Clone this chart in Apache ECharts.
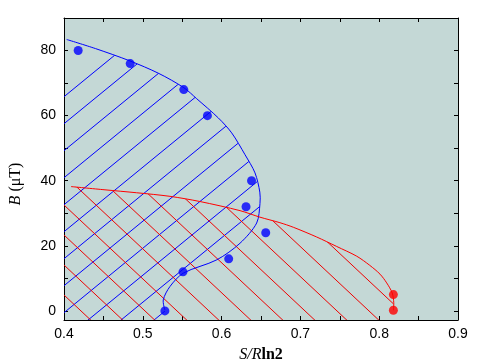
<!DOCTYPE html>
<html><head><meta charset="utf-8">
<script src="https://cdn.jsdelivr.net/npm/echarts@6/dist/echarts.min.js"></script>
<style>html,body{margin:0;padding:0;background:#fff}#c{width:500px;height:360px}</style>
</head><body><div id="c"></div>
<script>
// ---- data ----
const blueCurve = [[0.4034,83.4],[0.44,80.6],[0.4838,76.8],[0.52,73.0],[0.552,68.6],[0.5684,65.2],[0.5958,59.3],[0.6128,54.7],[0.6297,48.0],[0.6424,42.4],[0.6485,36.5],[0.6487,33.0],[0.6445,27.0],[0.6234,20.8],[0.594,15.7],[0.5514,11.6],[0.5345,7.5],[0.526,3.4],[0.528,0.3]];
const redCurve = [[0.4089,38.2],[0.452,37.2],[0.4922,36.3],[0.5345,35.2],[0.5726,33.6],[0.6234,30.8],[0.6487,28.8],[0.674,27.1],[0.691,25.7],[0.7207,22.7],[0.746,19.8],[0.7715,16.8],[0.788,14.0],[0.801,11.3],[0.8095,8.6],[0.8165,5.5],[0.8185,2.5],[0.818,0.2]];
const bluePoints = [[0.418,80],[0.484,76],[0.552,68],[0.582,60],[0.638,40],[0.631,32],[0.656,24],[0.609,16],[0.551,12],[0.528,0]];
const redPoints = [[0.818,5],[0.818,0.2]];
const xLabelValues = [0.4,0.5,0.6,0.7,0.8,0.9];
const yTickValues = [0,10,20,30,40,50,60,70,80,90];
const yLabelValues = [0,20,40,60,80];
const X_MIN = 0.4, X_MAX = 0.9, Y_MIN = -2.8, Y_MAX = 90;
// where the blue hatching begins on the left edge (hatch boundary), and where it meets the curve
const blueHatchStart = [[0.4, 66], [0.44, 80.6]];

// hatch pattern tile (pixel-space style)
function hatch(color, W, H, up, px, py) {
  const cv = document.createElement('canvas');
  cv.width = W; cv.height = H;
  const ctx = cv.getContext('2d');
  ctx.strokeStyle = color; ctx.lineWidth = 1;
  const s = H / W;
  let c = up ? py + s * px : py - s * px;
  c = ((c % H) + H) % H;
  ctx.beginPath();
  for (let k = -3; k <= 3; k++) {
    const x0 = -2, x1 = W + 2;
    const y0 = up ? c - s * x0 + k * H : c + s * x0 + k * H;
    const y1 = up ? c - s * x1 + k * H : c + s * x1 + k * H;
    ctx.moveTo(x0, y0); ctx.lineTo(x1, y1);
  }
  ctx.stroke();
  return { image: cv, repeat: 'repeat' };
}
const bluePattern = hatch('#0000ff', 33, 27, true, 64, 96.7);
const redPattern = hatch('#ee0000', 32, 30, false, 64, 205);

function blueRegion() {
  const last = blueCurve[blueCurve.length - 1];
  const pts = blueCurve.slice(1);
  return [blueHatchStart[1]].concat(pts.filter(p => p[0] >= blueHatchStart[1][0] || p[1] < 80),
    [[last[0], Y_MIN], [X_MIN, Y_MIN], blueHatchStart[0]]);
}
function redRegion() {
  const last = redCurve[redCurve.length - 1];
  return redCurve.concat([[last[0], Y_MIN], [X_MIN, Y_MIN], [X_MIN, redCurve[0][1]]]);
}
function hatchSeries(poly, pattern, z) {
  return {
    type: 'custom', coordinateSystem: 'cartesian2d', silent: true, z: z,
    data: [[X_MIN, Y_MIN]],
    renderItem: function (params, api) {
      return { type: 'polygon', shape: { points: poly.map(p => api.coord(p)) },
        style: { fill: pattern, stroke: 'transparent', lineWidth: 0 } };
    }
  };
}
function curveSeries(curve, color, z) {
  return {
    type: 'custom', coordinateSystem: 'cartesian2d', silent: true, z: z,
    data: [[X_MIN, Y_MIN]],
    renderItem: function (params, api) {
      return { type: 'polyline', shape: { points: curve.map(p => api.coord(p)), smooth: 0.3 },
        style: { fill: 'none', stroke: color, lineWidth: 1 } };
    }
  };
}

const chart = echarts.init(document.getElementById('c'), null, { renderer: 'canvas' });
const axisLine = { show: true, onZero: false, lineStyle: { color: '#000', width: 1 } };
const labelStyle = { color: '#000', fontSize: 14, fontFamily: 'Liberation Sans' };
chart.setOption({
  animation: false,
  backgroundColor: '#fff',
  grid: { left: 64, right: 42, top: 18, bottom: 40, show: true, backgroundColor: '#c4d8d6', borderWidth: 0,
    containLabel: false, outerBoundsMode: 'none' },
  xAxis: [
    { type: 'value', position: 'bottom', min: X_MIN, max: X_MAX, interval: 0.05,
      axisLine: axisLine, splitLine: { show: false },
      axisTick: { inside: true, length: 4, lineStyle: { color: '#000' } },
      axisLabel: Object.assign({ margin: 7, customValues: xLabelValues, formatter: v => v.toFixed(1) }, labelStyle),
      name: '{i|S/R}{b|ln2}', nameLocation: 'middle', nameGap: 27,
      nameTextStyle: { rich: {
        i: { fontFamily: 'Liberation Serif', fontStyle: 'italic', fontSize: 16, color: '#000' },
        b: { fontFamily: 'Liberation Serif', fontWeight: 'bold', fontSize: 16, color: '#000' } } } },
    { type: 'value', position: 'top', min: X_MIN, max: X_MAX, interval: 0.05,
      axisLine: axisLine, splitLine: { show: false }, axisLabel: { show: false },
      axisTick: { inside: true, length: 4, lineStyle: { color: '#000' } } }
  ],
  yAxis: [
    { type: 'value', position: 'left', min: Y_MIN, max: Y_MAX,
      axisLine: axisLine, splitLine: { show: false },
      axisTick: { inside: true, length: 4, customValues: yTickValues, lineStyle: { color: '#000' } },
      axisLabel: Object.assign({ margin: 8, customValues: yLabelValues }, labelStyle),
      name: '{i|B} (μT)', nameLocation: 'middle', nameGap: 40,
      nameTextStyle: { padding: [0, 30, 0, 0], fontFamily: 'Liberation Serif', fontSize: 16, color: '#000',
        rich: { i: { fontFamily: 'Liberation Serif', fontStyle: 'italic', fontSize: 16, color: '#000' } } } },
    { type: 'value', position: 'right', min: Y_MIN, max: Y_MAX,
      axisLine: axisLine, splitLine: { show: false }, axisLabel: { show: false },
      axisTick: { inside: true, length: 4, customValues: yTickValues, lineStyle: { color: '#000' } } }
  ],
  series: [
    hatchSeries(blueRegion(), bluePattern, 1),
    hatchSeries(redRegion(), redPattern, 2),
    curveSeries(blueCurve, '#0000ff', 3),
    curveSeries(redCurve, '#ff0000', 3),
    { type: 'scatter', data: bluePoints, symbolSize: 9, z: 4, itemStyle: { color: '#0000ff' } },
    { type: 'scatter', data: redPoints, symbolSize: 9, z: 4, itemStyle: { color: '#ff0000' } }
  ]
});
</script></body></html>
